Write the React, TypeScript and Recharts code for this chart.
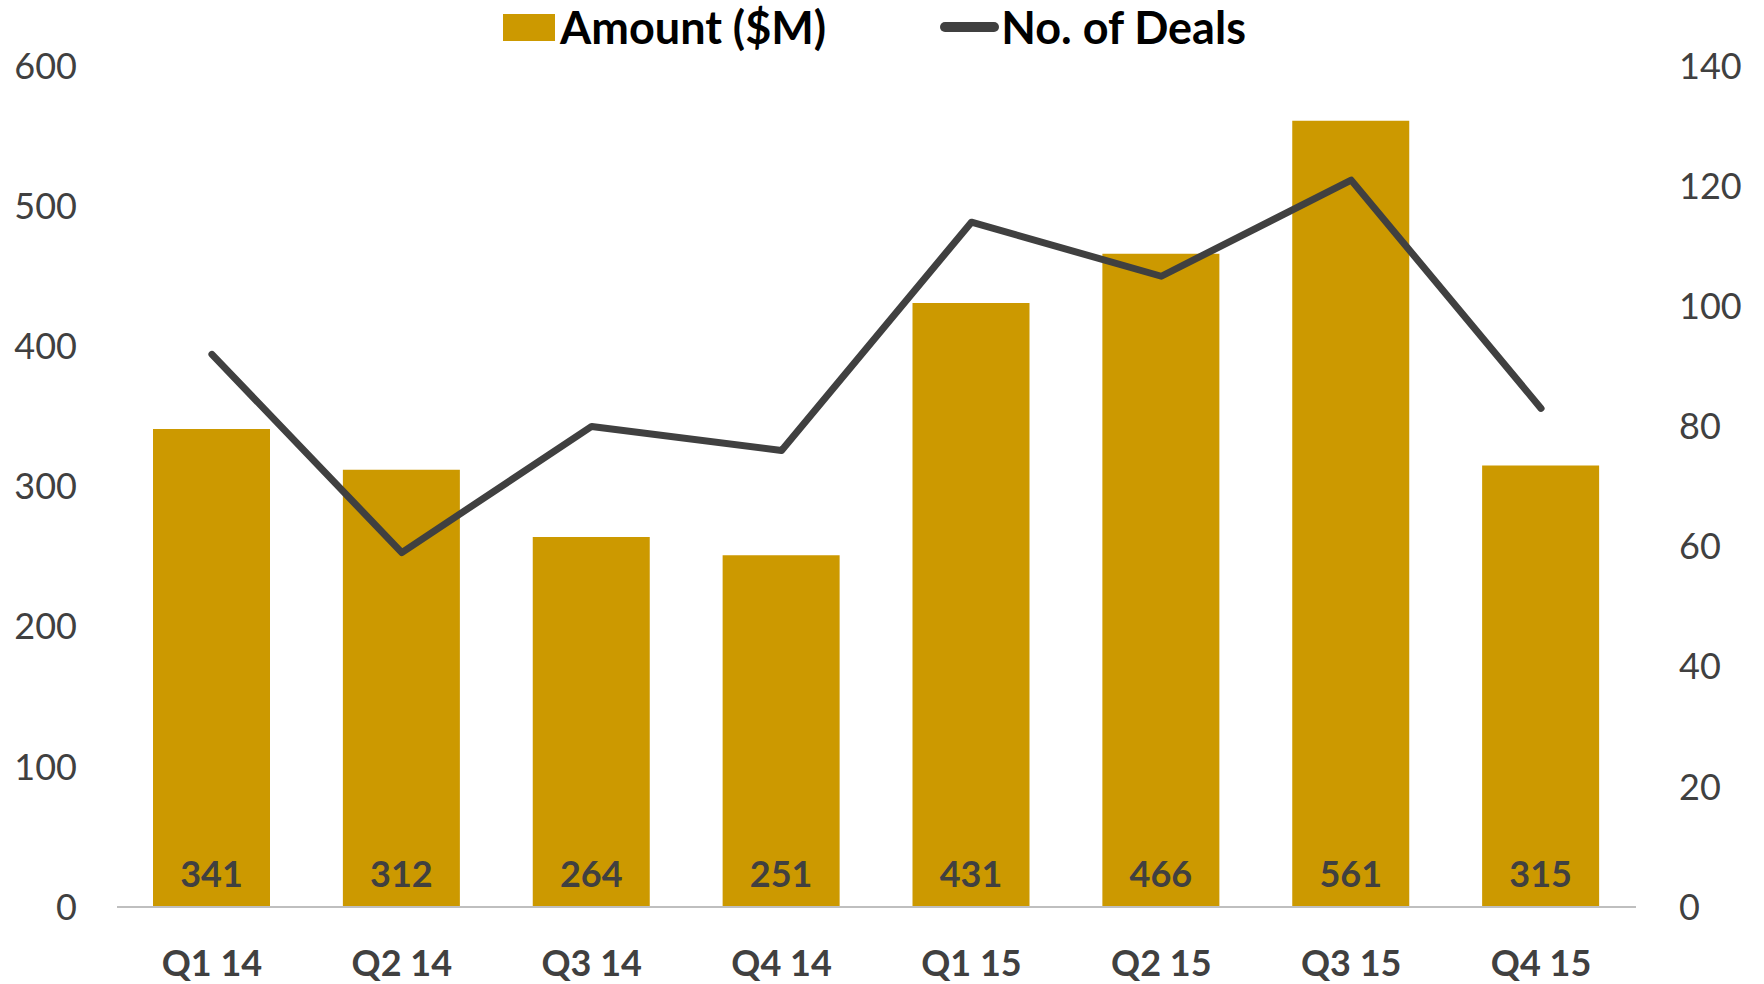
import { ComposedChart, Bar, Line, XAxis, YAxis, Legend, LabelList } from "recharts";

const quarters = ["Q1 14", "Q2 14", "Q3 14", "Q4 14", "Q1 15", "Q2 15", "Q3 15", "Q4 15"];
const amounts = [341, 312, 264, 251, 431, 466, 561, 315];
const deals = [92, 59, 80, 76, 114, 105, 121, 83];
const leftTicks = [0, 100, 200, 300, 400, 500, 600];
const rightTicks = [0, 20, 40, 60, 80, 100, 120, 140];

const GOLD = "#CC9900";
const DARK = "#404040";
const FONT = "Lato, 'Open Sans', sans-serif";

const data = quarters.map((q, i) => ({ q, amount: amounts[i], deals: deals[i] }));

const LegendBox = () => (
  <div
    style={{
      height: 66,
      display: "flex",
      alignItems: "flex-start",
      paddingLeft: 503,
      fontFamily: FONT,
      fontWeight: 700,
      fontSize: 45,
      color: "#000",
    }}
  >
    <div style={{ display: "flex", alignItems: "center", height: 54 }}>
      <span style={{ display: "inline-block", width: 52, height: 27, background: GOLD, marginRight: 5 }} />
      <span>Amount ($M)</span>
    </div>
    <div style={{ display: "flex", alignItems: "center", height: 54, marginLeft: 114 }}>
      <span style={{ display: "inline-block", width: 59, height: 10, borderRadius: 5, background: DARK, marginRight: 2 }} />
      <span>No. of Deals</span>
    </div>
  </div>
);

export default function App() {
  return (
    <div style={{ position: "absolute", left: 0, top: 0 }}>
      <ComposedChart
        width={1764}
        height={984}
        data={data}
        margin={{ top: 0, right: 0, bottom: 0, left: 0 }}
      >
        <Legend verticalAlign="top" align="left" content={() => <LegendBox />} />
        <XAxis
          dataKey="q"
          height={77}
          tickLine={false}
          tickSize={0}
          tickMargin={43}
          axisLine={{ stroke: "#BFBFBF", strokeWidth: 2 }}
          tick={{ fill: DARK, fontSize: 36, fontWeight: 700, fontFamily: FONT }}
        />
        <YAxis
          yAxisId="left"
          width={117}
          domain={[0, 600]}
          ticks={leftTicks}
          axisLine={false}
          tickLine={false}
          tickSize={0}
          tickMargin={40}
          tick={{ fill: DARK, fontSize: 36, fontFamily: FONT }}
        />
        <YAxis
          yAxisId="right"
          orientation="right"
          width={128}
          domain={[0, 140]}
          ticks={rightTicks}
          axisLine={false}
          tickLine={false}
          tickSize={0}
          tickMargin={43}
          tick={{ fill: DARK, fontSize: 36, fontFamily: FONT, textAnchor: "start" }}
        />
        <Bar yAxisId="left" dataKey="amount" fill={GOLD} barSize={117} isAnimationActive={false}>
          <LabelList
            dataKey="amount"
            position="insideBottom"
            offset={20}
            fill={DARK}
            fontSize={36}
            fontWeight={700}
            fontFamily={FONT}
          />
        </Bar>
        <Line
          yAxisId="right"
          dataKey="deals"
          type="linear"
          stroke={DARK}
          strokeWidth={7}
          strokeLinecap="round"
          strokeLinejoin="round"
          dot={false}
          activeDot={false}
          isAnimationActive={false}
        />
      </ComposedChart>
    </div>
  );
}
